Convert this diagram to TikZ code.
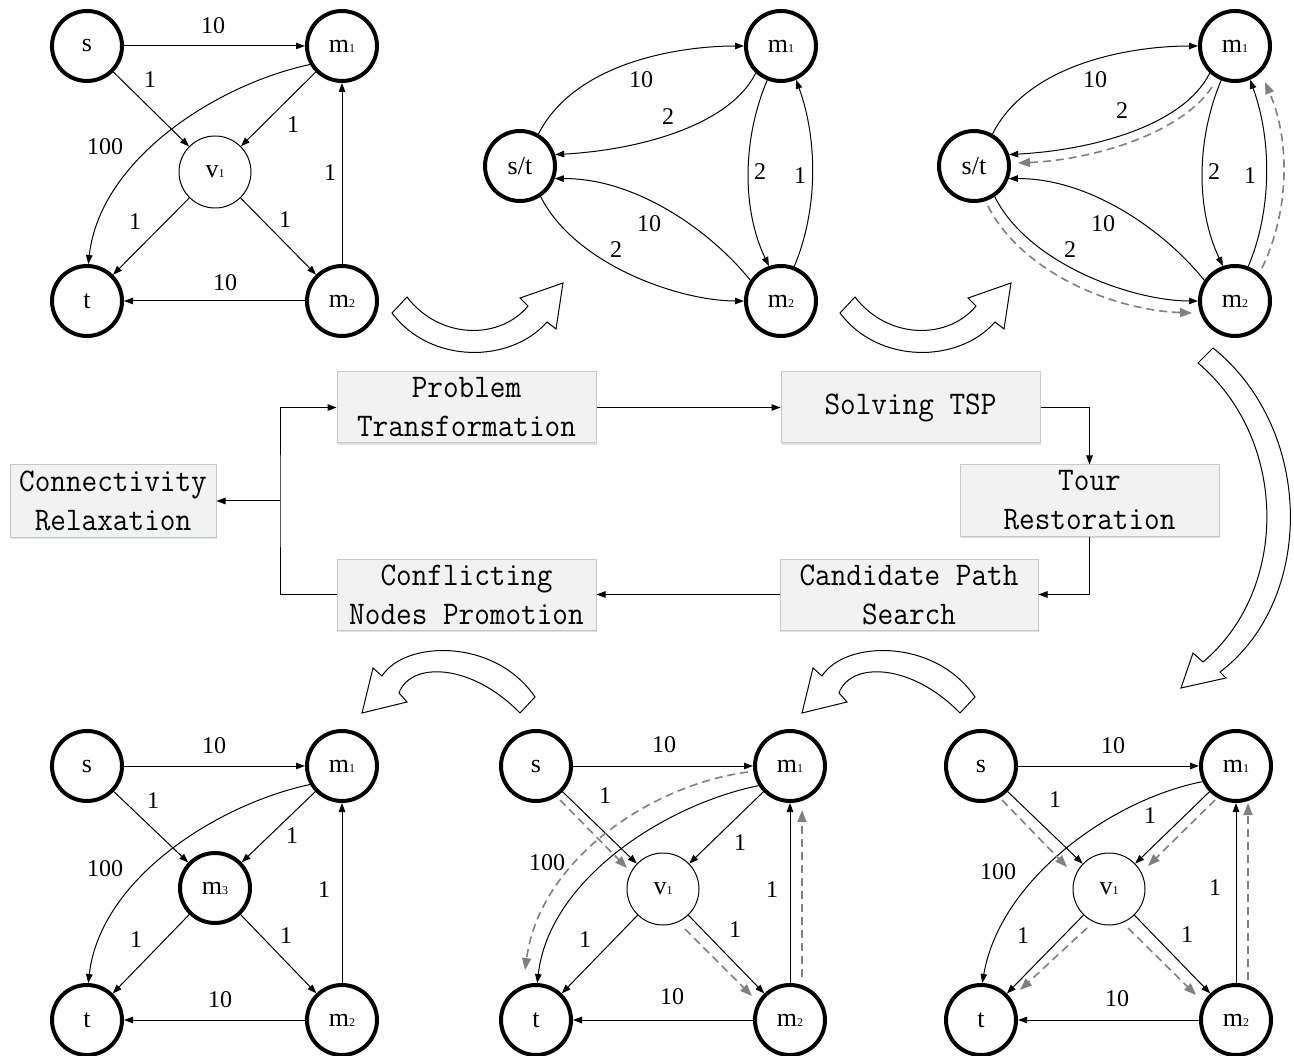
\documentclass[tikz,border=0pt]{standalone}
\usepackage{fontspec}
\setmainfont{Liberation Serif}
\usepackage{graphicx}
\usetikzlibrary{arrows.meta,calc,shadows}

\definecolor{dgray}{RGB}{128,128,128}
\definecolor{boxfill}{RGB}{242,242,242}
\definecolor{boxline}{RGB}{200,200,200}
\definecolor{boxshadow}{RGB}{214,226,240}

\newcommand\nsub[2]{#1{\fontsize{12}{12}\selectfont #2}}
\newcommand\bline[1]{\scalebox{0.92}[1]{#1}}

\begin{document}
\begin{tikzpicture}[x=1pt,y=-1pt,
  big/.style={circle,draw,line width=4pt,minimum size=70pt,inner sep=0pt,font=\fontsize{26}{26}\selectfont},
  small/.style={circle,draw,line width=1pt,minimum size=72pt,inner sep=0pt,font=\fontsize{26}{26}\selectfont},
  edge/.style={line width=1pt,-{Triangle[length=9pt,width=6.5pt]}},
  dsh/.style={draw=dgray,line width=1.6pt,dash pattern=on 8pt off 5pt,-{Triangle[length=12pt,width=9pt,fill=dgray]}},
  lbl/.style={font=\fontsize{24}{24}\selectfont,inner sep=0pt},
  fbox/.style={rectangle,draw=boxline,fill=boxfill,line width=1pt,minimum width=259pt,minimum height=71pt,align=center,inner sep=0pt,font=\ttfamily\fontsize{33}{39}\selectfont,drop shadow={shadow xshift=1pt,shadow yshift=-2pt,fill=boxshadow,opacity=1}},
  flow/.style={line width=1pt,-{Triangle[length=9pt,width=6.5pt]}},
  blk/.style={draw,fill=white,line width=1pt,line join=miter}
]
\fill[white] (0,0) rectangle (1294,1056);
\path[use as bounding box] (0,0) rectangle (1294,1056);

% ---------------- top-left graph ----------------
\node[big] (a_s) at (87,46) {s};
\node[big] (a_m1) at (342,46) {\nsub{m}{1}};
\node[small] (a_v1) at (215,172) {\nsub{v}{1}};
\node[big] (a_t) at (87,301) {t};
\node[big] (a_m2) at (342,301) {\nsub{m}{2}};
\draw[edge] (a_s) -- (a_m1);
\draw[edge] (a_s) -- (a_v1);
\draw[edge] (a_m1) -- (a_v1);
\draw[edge] (a_m2) -- (a_m1);
\draw[edge] (a_v1) -- (a_t);
\draw[edge] (a_v1) -- (a_m2);
\draw[edge] (a_m2) -- (a_t);
\draw[edge] (a_m1.210) .. controls (215,85) and (100,160) .. (a_t.88);
\node[lbl] (a_l1) at (213,26) {10};
\node[lbl] (a_l2) at (150,80) {1};
\node[lbl] (a_l3) at (293,125) {1};
\node[lbl] (a_l4) at (105,147) {100};
\node[lbl] (a_l5) at (330,173) {1};
\node[lbl] (a_l6) at (135,222) {1};
\node[lbl] (a_l7) at (285,220) {1};
\node[lbl] (a_l8) at (225,283) {10};

% ---------------- top-middle graph ----------------
\node[big] (b_st) at (520,166) {s/t};
\node[big] (b_m1) at (781,46) {\nsub{m}{1}};
\node[big] (b_m2) at (781,301) {\nsub{m}{2}};
\draw[edge] (b_st.60) .. controls (575,62) and (680,46) .. (b_m1.180);
\draw[edge] (b_m1.227) .. controls (730,125) and (640,150) .. (b_st.18);
\draw[edge] (b_m2.146) .. controls (710,230) and (635,178) .. (b_st.-20);
\draw[edge] (b_st.-56) .. controls (575,265) and (680,301) .. (b_m2.180);
\draw[edge] (b_m1.248) .. controls (742,140) and (742,210) .. (b_m2.109);
\draw[edge] (b_m2.69) .. controls (818,210) and (818,140) .. (b_m1.-66);
\node[lbl] (b_l1) at (641,80) {10};
\node[lbl] (b_l2) at (668,117) {2};
\node[lbl] (b_l3) at (760,172) {2};
\node[lbl] (b_l4) at (800,176) {1};
\node[lbl] (b_l5) at (649,224) {10};
\node[lbl] (b_l6) at (616,250) {2};

% ---------------- top-right graph ----------------
\node[big] (c_st) at (974,166) {s/t};
\node[big] (c_m1) at (1235,46) {\nsub{m}{1}};
\node[big] (c_m2) at (1235,301) {\nsub{m}{2}};
\draw[edge] (c_st.60) .. controls (1029,62) and (1134,46) .. (c_m1.180);
\draw[edge] (c_m1.227) .. controls (1184,125) and (1094,150) .. (c_st.18);
\draw[edge] (c_m2.146) .. controls (1164,230) and (1089,178) .. (c_st.-20);
\draw[edge] (c_st.-56) .. controls (1029,265) and (1134,301) .. (c_m2.180);
\draw[edge] (c_m1.248) .. controls (1196,140) and (1196,210) .. (c_m2.109);
\draw[edge] (c_m2.69) .. controls (1272,210) and (1272,140) .. (c_m1.-66);
\draw[dsh] ($(c_m1)+(-23,41)$) .. controls (1180,135) and (1090,160) .. ($(c_st)+(44,-3)$);
\draw[dsh] ($(c_st)+(14,40)$) .. controls (1020,270) and (1110,310) .. ($(c_m2)+(-43,12)$);
\draw[dsh] ($(c_m2)+(27,-33)$) .. controls (1290,210) and (1290,140) .. ($(c_m1)+(30,36)$);
\node[lbl] (c_l1) at (1095,80) {10};
\node[lbl] (c_l2) at (1122,111) {2};
\node[lbl] (c_l3) at (1214,172) {2};
\node[lbl] (c_l4) at (1250,176) {1};
\node[lbl] (c_l5) at (1103,224) {10};
\node[lbl] (c_l6) at (1070,250) {2};

% ---------------- bottom-left graph ----------------
\node[big] (d_s) at (87,766) {s};
\node[big] (d_m1) at (342,766) {\nsub{m}{1}};
\node[big] (d_m3) at (215,888) {\nsub{m}{3}};
\node[big] (d_t) at (87,1020) {t};
\node[big] (d_m2) at (342,1020) {\nsub{m}{2}};
\draw[edge] (d_s) -- (d_m1);
\draw[edge] (d_s) -- (d_m3);
\draw[edge] (d_m1) -- (d_m3);
\draw[edge] (d_m2) -- (d_m1);
\draw[edge] (d_m3) -- (d_t);
\draw[edge] (d_m3) -- (d_m2);
\draw[edge] (d_m2) -- (d_t);
\draw[edge] (d_m1.210) .. controls (215,805) and (100,880) .. (d_t.88);
\node[lbl] (d_l1) at (214,746) {10};
\node[lbl] (d_l2) at (153,801) {1};
\node[lbl] (d_l3) at (292,836) {1};
\node[lbl] (d_l4) at (105,869) {100};
\node[lbl] (d_l5) at (324,890) {1};
\node[lbl] (d_l6) at (136,940) {1};
\node[lbl] (d_l7) at (286,936) {1};
\node[lbl] (d_l8) at (220,1000) {10};

% ---------------- bottom-middle graph ----------------
\node[big] (e_s) at (536,766) {s};
\node[big] (e_m1) at (790,766) {\nsub{m}{1}};
\node[small] (e_v1) at (663,889) {\nsub{v}{1}};
\node[big] (e_t) at (536,1020) {t};
\node[big] (e_m2) at (790,1020) {\nsub{m}{2}};
\draw[edge] (e_s) -- (e_m1);
\draw[edge] (e_s) -- (e_v1);
\draw[edge] (e_m1) -- (e_v1);
\draw[edge] (e_m2) -- (e_m1);
\draw[edge] (e_v1) -- (e_t);
\draw[edge] (e_v1) -- (e_m2);
\draw[edge] (e_m2) -- (e_t);
\draw[edge] (e_m1.212) .. controls (664,805) and (549,880) .. (e_t.88);
\draw[dsh] ($(e_s)+(24,34)$) -- ($(e_v1)+(-36,-21)$);
\draw[dsh] ($(e_v1)+(22,40)$) -- ($(e_m2)+(-38,-24)$);
\draw[dsh] ($(e_m2)+(12,-43)$) -- ($(e_m1)+(12,44)$);
\draw[dsh] ($(e_m1)+(-42,6)$) .. controls (650,785) and (540,860) .. ($(e_t)+(-11,-50)$);
\node[lbl] (e_l1) at (664,745) {10};
\node[lbl] (e_l2) at (605,796) {1};
\node[lbl] (e_l3) at (740,843) {1};
\node[lbl] (e_l4) at (547,863) {100};
\node[lbl] (e_l5) at (772,890) {1};
\node[lbl] (e_l6) at (585,940) {1};
\node[lbl] (e_l7) at (735,930) {1};
\node[lbl] (e_l8) at (672,997) {10};

% ---------------- bottom-right graph ----------------
\node[big] (f_s) at (981,766) {s};
\node[big] (f_m1) at (1236,766) {\nsub{m}{1}};
\node[small] (f_v1) at (1109,889) {\nsub{v}{1}};
\node[big] (f_t) at (981,1020) {t};
\node[big] (f_m2) at (1236,1020) {\nsub{m}{2}};
\draw[edge] (f_s) -- (f_m1);
\draw[edge] (f_s) -- (f_v1);
\draw[edge] (f_m1) -- (f_v1);
\draw[edge] (f_m2) -- (f_m1);
\draw[edge] (f_v1) -- (f_t);
\draw[edge] (f_v1) -- (f_m2);
\draw[edge] (f_m2) -- (f_t);
\draw[edge] (f_m1.205) .. controls (1110,800) and (1000,880) .. (f_t.88);
\draw[dsh] ($(f_s)+(21,34)$) -- ($(f_v1)+(-42,-22)$);
\draw[dsh] ($(f_m1)+(-21,34)$) -- ($(f_v1)+(39,-23)$);
\draw[dsh] ($(f_v1)+(-22,39)$) -- ($(f_t)+(39,-30)$);
\draw[dsh] ($(f_v1)+(19,39)$) -- ($(f_m2)+(-40,-25)$);
\draw[dsh] ($(f_m2)+(12,-40)$) -- ($(f_m1)+(12,37)$);
\node[lbl] (f_l1) at (1113,746) {10};
\node[lbl] (f_l2) at (1055,800) {1};
\node[lbl] (f_l3) at (1150,816) {1};
\node[lbl] (f_l4) at (998,872) {100};
\node[lbl] (f_l5) at (1215,888) {1};
\node[lbl] (f_l6) at (1023,936) {1};
\node[lbl] (f_l7) at (1187,935) {1};
\node[lbl] (f_l8) at (1117,999) {10};

% ---------------- curved block arrows ----------------
\draw[blk] (392,313) -- (407,297) .. controls (440,340) and (500,340) .. (528,306) -- (520,298) -- (563,283) -- (556,329) -- (547,322) .. controls (510,364) and (430,364) .. (392,313) -- cycle;
\draw[blk] (840,313) -- (855,297) .. controls (888,340) and (948,340) .. (976,306) -- (968,298) -- (1011,283) -- (1004,329) -- (995,322) .. controls (958,364) and (878,364) .. (840,313) -- cycle;
\draw[blk] (1198,363) -- (1213,348) .. controls (1315,430) and (1315,600) .. (1220,672) -- (1226,678) -- (1181,688) -- (1193,653) -- (1203,662) .. controls (1289,590) and (1289,440) .. (1198,363) -- cycle;
\draw[blk] (535,697) .. controls (495,638) and (405,640) .. (382,676) -- (373,668) -- (362,713) -- (407,702) -- (399,693) .. controls (410,662) and (470,662) .. (520,713) -- cycle;
\draw[blk] (975,697) .. controls (935,638) and (845,640) .. (822,676) -- (813,668) -- (802,713) -- (847,702) -- (839,693) .. controls (850,662) and (910,662) .. (960,713) -- cycle;

% ---------------- flow chart ----------------
\node[fbox] (pt) at (466.5,407.5) {\bline{Problem}\\\bline{Transformation}};
\node[fbox] (ts) at (910.5,407.5) {\bline{Solving TSP}};
\node[fbox] (tr) at (1089.5,500.5) {\bline{Tour}\\\bline{Restoration}};
\node[fbox,minimum width=258pt] (cps) at (909,594.5) {\bline{Candidate Path}\\\bline{Search}};
\node[fbox] (cnp) at (466.5,594.5) {\bline{Conflicting}\\\bline{Nodes Promotion}};
\node[fbox,minimum width=206pt,minimum height=72pt] (cr) at (113,501) {\bline{Connectivity}\\\bline{Relaxation}};
\coordinate (jn) at (280,501);
\draw[flow] (pt) -- (ts);
\draw[flow] (ts.east) -| (tr.north);
\draw[flow] (tr.south) |- (cps.east);
\draw[flow] (cps) -- (cnp);
\draw[flow] (cnp.west) -| (jn) |- (pt.west);
\draw[flow] (jn) -- (cr);
\end{tikzpicture}
\end{document}
